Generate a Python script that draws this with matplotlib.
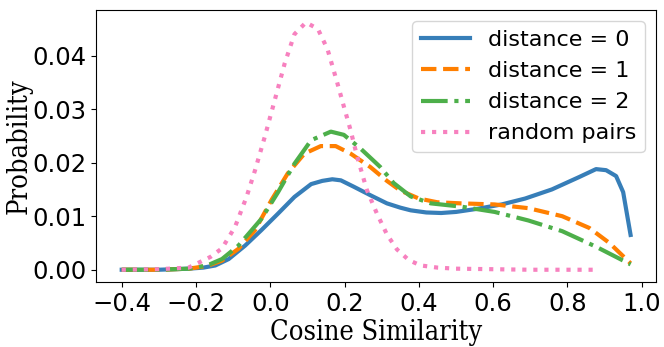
import numpy as np
import matplotlib
matplotlib.use("Agg")
import matplotlib.pyplot as plt

# distance = 0
x_d0 = [-0.40, -0.30, -0.22, -0.18, -0.148, -0.112, -0.068, -0.024, 0.021, 0.065, 0.11, 0.14,
        0.167, 0.19, 0.225, 0.27, 0.314, 0.35, 0.378, 0.42, 0.46, 0.50, 0.559, 0.623, 0.686,
        0.758, 0.831, 0.877, 0.904, 0.931, 0.95, 0.97]
y_d0 = [0.0000, 0.0000, 0.0002, 0.0004, 0.0008, 0.0020, 0.0045, 0.0074, 0.0105, 0.0136, 0.0160, 0.0166,
        0.0169, 0.0167, 0.0155, 0.0139, 0.0124, 0.0116, 0.0111, 0.0107, 0.0106, 0.0108, 0.0114, 0.0122, 0.0133,
        0.0150, 0.0173, 0.0188, 0.0186, 0.0175, 0.0145, 0.0065]

# distance = 1
x_d1 = [-0.40, -0.30, -0.22, -0.17, -0.13, -0.086, -0.041, 0.003, 0.047, 0.092, 0.136, 0.176,
        0.216, 0.269, 0.314, 0.35, 0.40, 0.45, 0.513, 0.604, 0.695, 0.786, 0.859, 0.913, 0.97]
y_d1 = [0.0000, 0.0000, 0.0002, 0.0007, 0.0017, 0.0039, 0.0074, 0.0130, 0.0180, 0.0217, 0.0231, 0.0231,
        0.0217, 0.0192, 0.0166, 0.0148, 0.0133, 0.0126, 0.0124, 0.0122, 0.0115, 0.0100, 0.0078, 0.0050, 0.0012]

# distance = 2
x_d2 = [-0.40, -0.30, -0.22, -0.17, -0.13, -0.086, -0.024, 0.021, 0.065, 0.11, 0.163, 0.198,
        0.242, 0.296, 0.332, 0.378, 0.432, 0.513, 0.604, 0.695, 0.786, 0.877, 0.97]
y_d2 = [0.0000, 0.0000, 0.0002, 0.0008, 0.0020, 0.0045, 0.0095, 0.0145, 0.0198, 0.0242, 0.0258, 0.0252,
        0.0227, 0.0192, 0.0162, 0.0137, 0.0124, 0.0118, 0.0108, 0.0092, 0.0072, 0.0043, 0.0010]

# random pairs
x_rp = [-0.40, -0.30, -0.22, -0.161, -0.13, -0.095, -0.064, -0.041, -0.015, 0.012, 0.039, 0.065,
        0.096, 0.128, 0.154, 0.18, 0.198, 0.216, 0.234, 0.26, 0.287, 0.314, 0.341, 0.373,
        0.405, 0.45, 0.50, 0.60, 0.70, 0.80, 0.87]
y_rp = [0.0000, 0.0001, 0.0004, 0.0024, 0.0040, 0.0080, 0.0136, 0.0186, 0.0248, 0.0317, 0.0386, 0.0440,
        0.0462, 0.0450, 0.0412, 0.0350, 0.0305, 0.0261, 0.0211, 0.0149, 0.0105, 0.0066, 0.0038, 0.0018,
        0.0008, 0.0004, 0.0002, 0.0001, 0.0000, 0.0000, 0.0000]

fig, ax = plt.subplots(figsize=(6.64, 3.47), dpi=100)
fig.subplots_adjust(left=0.145, right=0.988, top=0.971, bottom=0.187)

ax.plot(x_d0, y_d0, color="#377eb8", lw=3, label="distance = 0")
ax.plot(x_d1, y_d1, color="#ff7f00", lw=3, ls="--", label="distance = 1")
ax.plot(x_d2, y_d2, color="#4daf4a", lw=3, ls="-.", label="distance = 2")
ax.plot(x_rp, y_rp, color="#f781bf", lw=3, ls=":", label="random pairs")

ax.set_xticks([-0.4, -0.2, 0.0, 0.2, 0.4, 0.6, 0.8, 1.0])
ax.set_yticks([0.0, 0.01, 0.02, 0.03, 0.04])
ax.tick_params(labelsize=17.5)
ax.set_xlabel("Cosine Similarity", family="DejaVu Serif", stretch="condensed",
              fontsize=19.5, labelpad=2)
ax.set_ylabel("Probability", family="DejaVu Serif", stretch="condensed",
              fontsize=19.5, labelpad=0)
ax.legend(loc="upper right", fontsize=16, handlelength=2.2)

fig.savefig("out.png")
